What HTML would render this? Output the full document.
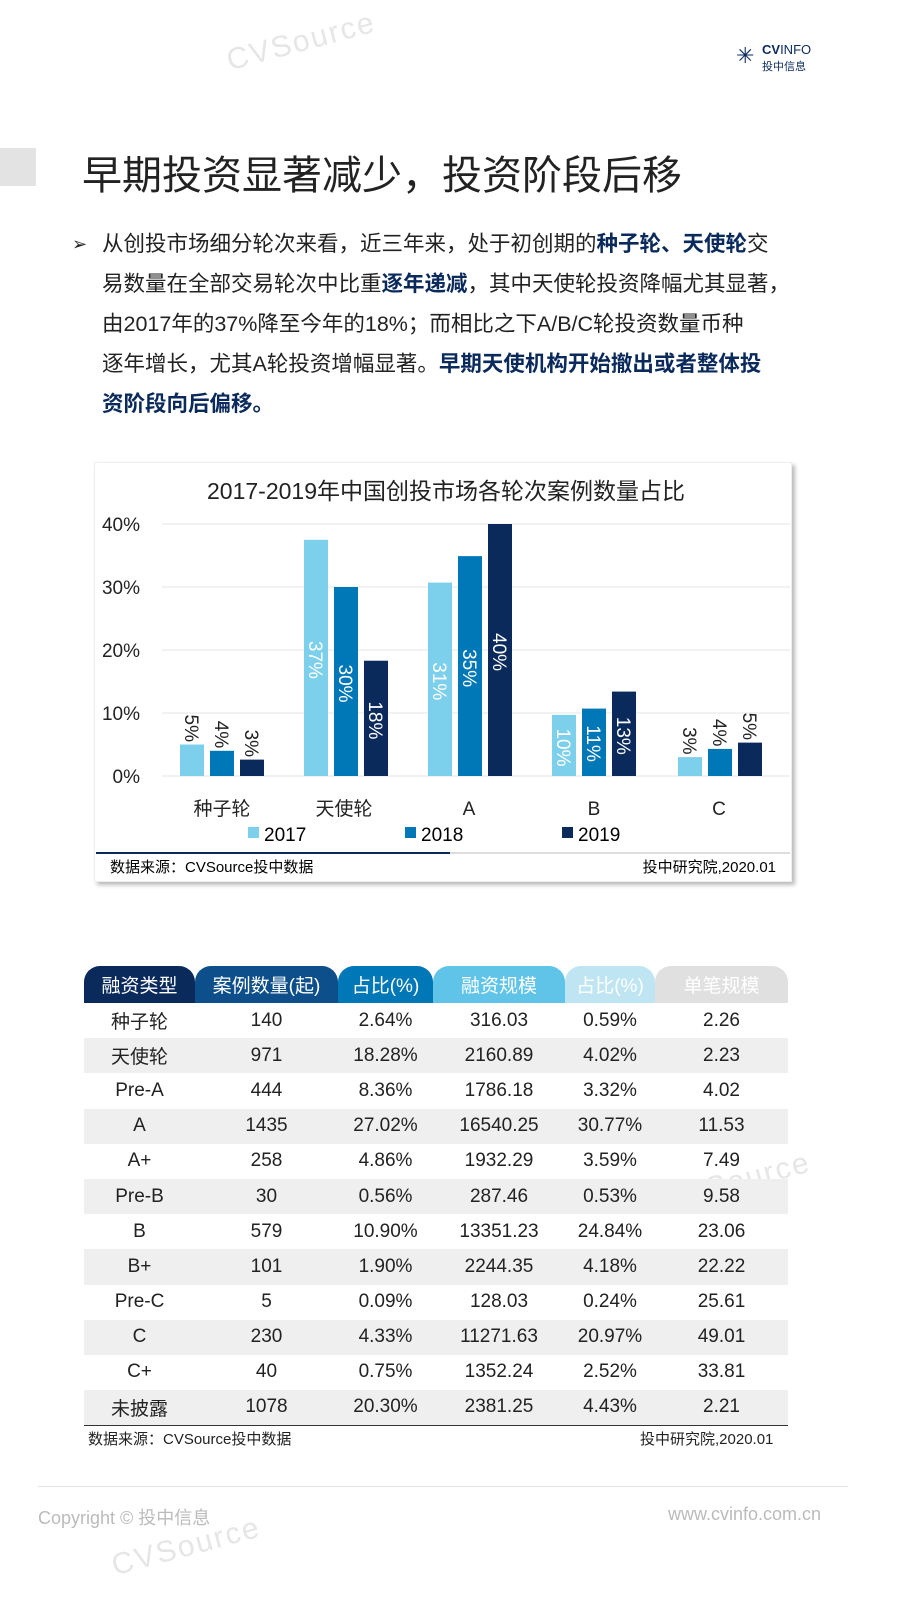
<!DOCTYPE html>
<html><head><meta charset="utf-8"><style>
*{margin:0;padding:0;box-sizing:border-box}
body{width:900px;height:1600px;background:#fff;position:relative;overflow:hidden;font-family:"Liberation Sans","Noto Sans CJK SC",sans-serif;color:#222}
.a{position:absolute;white-space:nowrap}
.p{position:absolute;left:102px;font-size:21.5px;line-height:40px;color:#222;width:730px}
b{color:#0b2a5c}
table{position:absolute;left:84px;top:966px;width:704px;border-collapse:collapse;font-size:19px;color:#222}
td{height:35.2px;text-align:center;padding:0}
th{height:37px;font-weight:normal;color:#fff;border-radius:16px 16px 0 0;font-size:19px}
tr.g td{background:#efefef}
.w{position:absolute;color:#e6e6e6;font-size:30px;transform:rotate(-15deg);letter-spacing:2px}
</style></head><body>
<div class="w" style="left:225px;top:25px">CVSource</div>
<div class="w" style="left:110px;top:585px">CVSource</div>
<div class="w" style="left:610px;top:480px">CVSource</div>
<div class="w" style="left:660px;top:1165px">CVSource</div>
<div class="w" style="left:110px;top:1530px">CVSource</div>
<div class="a" style="left:0;top:148px;width:36px;height:38px;background:#e3e3e3"></div>
<div class="a" style="left:82px;top:143px;font-size:40px;color:#222;font-family:'Noto Sans CJK SC',sans-serif">早期投资显著减少，投资阶段后移</div>
<div class="a" style="left:762px;top:42px;font-size:13px;color:#0b2a5c;font-weight:bold">CV<span style="font-weight:normal">INFO</span></div>
<div class="a" style="left:762px;top:58px;font-size:11px;color:#0b2a5c">投中信息</div>
<div class="a" style="left:736px;top:42px;font-size:22px;color:#0b2a5c;line-height:28px">✳</div>
<div class="a" style="left:72px;top:224px;font-size:18px;line-height:40px">➢</div>
<div class="p" style="top:224px">从创投市场细分轮次来看，近三年来，处于初创期的<b>种子轮、天使轮</b>交<br>易数量在全部交易轮次中比重<b>逐年递减</b>，其中天使轮投资降幅尤其显著，<br>由2017年的37%降至今年的18%；而相比之下A/B/C轮投资数量币种<br>逐年增长，尤其A轮投资增幅显著。<b>早期天使机构开始撤出或者整体投<br>资阶段向后偏移。</b></div>
<div class="a" style="left:94px;top:462px;width:698px;height:420px;background:#fff;box-shadow:3px 3px 4px #bbb;border:1px solid #eee"></div>
<svg class="a" style="left:0;top:0" width="900" height="900" font-family="Liberation Sans,Noto Sans CJK SC,sans-serif">
<text x="446" y="499" font-size="23" text-anchor="middle" fill="#222">2017-2019年中国创投市场各轮次案例数量占比</text>
<g stroke="#e6e6e6" stroke-width="1"><line x1="162" x2="790" y1="524" y2="524"/><line x1="162" x2="790" y1="587" y2="587"/><line x1="162" x2="790" y1="650" y2="650"/><line x1="162" x2="790" y1="713" y2="713"/><line x1="162" x2="790" y1="776" y2="776"/></g>
<g font-size="19" fill="#222" text-anchor="end"><text x="140" y="531">40%</text><text x="140" y="594">30%</text><text x="140" y="657">20%</text><text x="140" y="720">10%</text><text x="140" y="783">0%</text></g>
<g id="bars"></g>
<g font-size="19" fill="#222" text-anchor="middle"><text x="222" y="815">种子轮</text><text x="344" y="815">天使轮</text><text x="469" y="815">A</text><text x="594" y="815">B</text><text x="719" y="815">C</text></g>
<rect x="248" y="827" width="11" height="11" fill="#7dd0ec"/><text x="264" y="841" font-size="19">2017</text>
<rect x="405" y="827" width="11" height="11" fill="#0077b6"/><text x="421" y="841" font-size="19">2018</text>
<rect x="562" y="827" width="11" height="11" fill="#0b2a5c"/><text x="578" y="841" font-size="19">2019</text>
<line x1="96" x2="450" y1="853" y2="853" stroke="#0b2a5c" stroke-width="2"/><line x1="450" x2="790" y1="853" y2="853" stroke="#ddd" stroke-width="2"/>
<text x="110" y="872" font-size="15">数据来源：CVSource投中数据</text>
<text x="776" y="872" font-size="15" text-anchor="end">投中研究院,2020.01</text>
<text x="436" y="936" font-size="19" text-anchor="middle" fill="#222">2019年中国创投市场各轮次交易情况（百万美元）</text>
</svg>
<script>
var v=[[5,4,2.6],[37.5,30,18.3],[30.7,34.9,40],[9.7,10.7,13.4],[3,4.3,5.3]];
var L=[["5%","4%","3%"],["37%","30%","18%"],["31%","35%","40%"],["10%","11%","13%"],["3%","4%","5%"]];
var c=["#7dd0ec","#0077b6","#0b2a5c"],st=[180,304,428,552,678],s="";
for(var g=0;g<5;g++)for(var i=0;i<3;i++){var x=st[g]+i*30,h=v[g][i]*6.3,y=776-h;s+='<rect x="'+x+'" y="'+y+'" width="24" height="'+h+'" fill="'+c[i]+'"/>';
var inside=v[g][i]>8,cx=x+12,len=L[g][i].length*10+4,ty=inside?(y+h/2-len/2):y-len-6;s+='<text transform="translate('+(cx-7)+','+ty+') rotate(90)" font-size="19" fill="'+(inside?'#fff':'#222')+'">'+L[g][i]+'</text>';}
document.getElementById('bars').innerHTML=s;
</script>
<table>
<tr><th style="background:#0b2a5c;width:111px">融资类型</th><th style="background:#0d4f8a;width:143px">案例数量(起)</th><th style="background:#0077b6;width:95px">占比(%)</th><th style="background:#5fc4e8;width:132px">融资规模</th><th style="background:#bfe5f2;width:90px">占比(%)</th><th style="background:#e0e0e0">单笔规模</th></tr>
<tr><td>种子轮</td><td>140</td><td>2.64%</td><td>316.03</td><td>0.59%</td><td>2.26</td></tr>
<tr class="g"><td>天使轮</td><td>971</td><td>18.28%</td><td>2160.89</td><td>4.02%</td><td>2.23</td></tr>
<tr><td>Pre-A</td><td>444</td><td>8.36%</td><td>1786.18</td><td>3.32%</td><td>4.02</td></tr>
<tr class="g"><td>A</td><td>1435</td><td>27.02%</td><td>16540.25</td><td>30.77%</td><td>11.53</td></tr>
<tr><td>A+</td><td>258</td><td>4.86%</td><td>1932.29</td><td>3.59%</td><td>7.49</td></tr>
<tr class="g"><td>Pre-B</td><td>30</td><td>0.56%</td><td>287.46</td><td>0.53%</td><td>9.58</td></tr>
<tr><td>B</td><td>579</td><td>10.90%</td><td>13351.23</td><td>24.84%</td><td>23.06</td></tr>
<tr class="g"><td>B+</td><td>101</td><td>1.90%</td><td>2244.35</td><td>4.18%</td><td>22.22</td></tr>
<tr><td>Pre-C</td><td>5</td><td>0.09%</td><td>128.03</td><td>0.24%</td><td>25.61</td></tr>
<tr class="g"><td>C</td><td>230</td><td>4.33%</td><td>11271.63</td><td>20.97%</td><td>49.01</td></tr>
<tr><td>C+</td><td>40</td><td>0.75%</td><td>1352.24</td><td>2.52%</td><td>33.81</td></tr>
<tr class="g" style="border-bottom:1px solid #333"><td>未披露</td><td>1078</td><td>20.30%</td><td>2381.25</td><td>4.43%</td><td>2.21</td></tr>
</table>
<div class="a" style="left:88px;top:1428px;font-size:15px">数据来源：CVSource投中数据</div>
<div class="a" style="left:640px;top:1428px;font-size:15px">投中研究院,2020.01</div>
<div class="a" style="left:38px;top:1486px;width:810px;height:1px;background:#e5e5e5"></div>
<div class="a" style="left:38px;top:1504px;font-size:18px;color:#bbb">Copyright © 投中信息</div>
<div class="a" style="left:668px;top:1504px;font-size:18px;color:#bbb">www.cvinfo.com.cn</div>
</body></html>
